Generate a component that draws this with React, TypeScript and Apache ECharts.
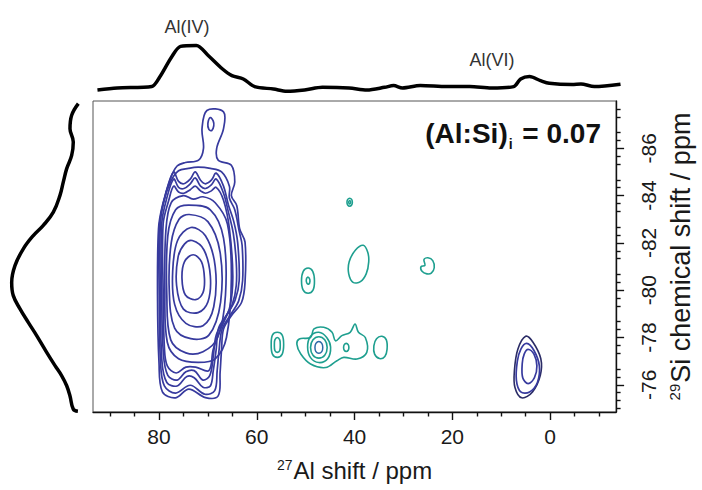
import React, { useEffect, useRef } from 'react';
import * as echarts from 'echarts';

// ---- axis ticks / labels ----
const X_MAJOR = [0, 20, 40, 60, 80];
const X_MINOR = [-10, -5, 5, 10, 15, 25, 30, 35, 45, 50, 55, 65, 70, 75, 85, 90];
const Y_MAJOR = [-86, -84, -82, -80, -78, -76];
const Y_MINOR = [-87.667, -87.333, -86.667, -86.333, -85.667, -85.333, -84.667, -84.333, -83.667, -83.333,
  -82.667, -82.333, -81.667, -81.333, -80.667, -80.333, -79.667, -79.333, -78.667, -78.333,
  -77.667, -77.333, -76.667, -76.333, -75.667, -75.333, -75];

// ---- 1D projections ----
// top: [27Al ppm, relative intensity]
const TOP_SPECTRUM = [
  [92.6, 0.083], [88.6, 0.117], [81.6, 0.143], [80.0, 0.3], [77.6, 0.633], [75.8, 0.81], [72.6, 0.827],
  [70.2, 0.658], [67.3, 0.433], [65.4, 0.323], [63.1, 0.267], [60.8, 0.14], [57.0, 0.1], [54.3, 0.062],
  [50.7, 0.083], [47.1, 0.128], [41.7, 0.117], [38.1, 0.083], [34.5, 0.128], [32.7, 0.157], [30.9, 0.117],
  [27.3, 0.157], [21.9, 0.14], [17.3, 0.14], [12.9, 0.117], [8.4, 0.14], [7.0, 0.267], [5.2, 0.307],
  [3.0, 0.24], [1.2, 0.195], [-3.4, 0.173], [-5.2, 0.183], [-7.9, 0.14], [-13.2, 0.18],
];
// left: [relative intensity, 29Si ppm]
const LEFT_SPECTRUM = [
  [0.024, -87.89], [0.119, -87.4], [0.143, -86.83], [0.096, -86.27], [0.119, -85.7], [0.19, -85.14],
  [0.239, -84.57], [0.286, -84.01], [0.381, -83.3], [0.524, -82.74], [0.667, -82.31], [0.81, -81.75],
  [0.929, -81.04], [0.976, -80.33], [0.953, -79.77], [0.857, -79.21], [0.739, -78.64], [0.619, -78.08],
  [0.476, -77.37], [0.357, -76.81], [0.261, -76.38], [0.19, -75.96], [0.143, -75.53], [0.096, -74.97],
  [0.03, -74.88],
];

// ---- 2D contours: [27Al ppm, 29Si ppm] ----
const AL4_CONTOURS = [
  [[73.0, -81.5], [71.3, -81.2], [70.7, -80.5], [71.0, -79.9], [72.5, -79.6], [74.6, -79.8], [75.3, -80.5], [74.8, -81.2]],
  [[73.2, -82.1], [70.8, -81.7], [69.5, -80.6], [70.0, -79.5], [72.0, -79.05], [75.0, -79.2], [76.4, -80.2], [76.1, -81.4], [74.8, -81.95]],
  [[73.5, -82.65], [70.5, -82.3], [68.5, -81.0], [68.8, -79.3], [71.0, -78.5], [74.5, -78.6], [76.8, -79.4], [77.2, -80.8], [76.2, -82.1]],
  [[73.8, -83.2], [70.0, -82.9], [67.5, -81.6], [67.4, -79.5], [69.8, -78.1], [73.5, -77.95], [76.8, -78.4], [77.9, -80.0], [77.5, -82.0], [75.9, -83.0]],
  [[74.0, -83.6], [69.5, -83.4], [66.8, -82.2], [66.4, -79.8], [68.0, -78.0], [71.0, -77.4], [74.5, -77.35], [77.6, -77.9], [78.4, -79.8], [78.2, -82.3], [76.6, -83.4]],
  [[75.0, -84.0], [73.0, -83.85], [71.0, -83.95], [68.5, -83.7], [66.0, -82.8], [65.2, -80.5], [66.2, -78.0], [68.5, -77.1], [72.0, -76.95], [76.0, -77.1], [78.3, -77.8], [78.8, -80.0], [78.6, -82.5], [77.5, -83.7]],
  [[79.15, -82.8], [78.0, -83.8], [77.0, -84.4], [76.0, -84.15], [74.9, -84.1], [73.6, -84.25], [72.6, -84.4], [71.5, -84.2], [70.5, -84.1], [69.3, -84.2], [68.3, -84.35], [66.8, -83.8], [65.6, -82.6], [64.9, -80.6], [65.5, -79.3], [67.3, -78.4], [68.9, -77.5], [69.8, -76.6], [72.5, -76.75], [74.5, -76.75], [76.5, -76.5], [78.3, -76.8], [78.9, -77.6], [79.15, -80.0]],
  [[79.45, -82.8], [78.4, -83.9], [77.0, -84.7], [76.0, -84.35], [74.9, -84.3], [73.6, -84.5], [72.6, -84.75], [71.5, -84.4], [70.5, -84.3], [69.3, -84.45], [68.3, -84.7], [66.8, -84.1], [65.8, -83.3], [64.8, -82.4], [64.2, -81.2], [64.2, -80.2], [65.0, -79.4], [66.6, -78.8], [68.3, -78.1], [68.9, -77.2], [69.6, -76.4], [71.0, -76.2], [72.8, -76.6], [74.5, -76.55], [76.3, -76.2], [78.2, -76.4], [79.1, -77.3], [79.45, -79.8]],
  [[79.7, -82.9], [78.6, -84.1], [77.0, -85.0], [76.0, -84.6], [74.9, -84.5], [73.6, -84.7], [72.6, -85.0], [71.5, -84.65], [70.5, -84.5], [69.3, -84.65], [68.3, -84.95], [66.8, -84.4], [65.8, -83.6], [64.7, -82.9], [63.9, -82.0], [63.6, -80.4], [64.4, -79.6], [66.0, -79.0], [67.8, -78.4], [68.3, -77.5], [68.9, -76.6], [69.5, -75.95], [71.0, -75.9], [72.8, -76.3], [74.3, -76.35], [76.3, -75.95], [78.4, -76.1], [79.4, -77.0], [79.7, -79.8]],
  [[79.95, -82.6], [79.1, -83.7], [77.6, -84.6], [76.0, -85.05], [74.0, -85.15], [72.0, -85.2], [69.5, -85.15], [67.2, -85.0], [65.6, -84.4], [65.6, -83.9], [64.5, -83.4], [63.6, -82.5], [63.0, -81.9], [62.9, -80.4], [63.7, -79.55], [65.4, -78.95], [67.1, -78.35], [67.7, -77.5], [68.1, -76.6], [68.6, -75.75], [70.6, -75.6], [73.6, -75.98], [76.6, -75.65], [78.9, -75.95], [79.7, -77.0], [79.95, -79.8]],
  [[70.2, -87.6], [66.8, -87.54], [66.8, -86.83], [68.2, -86.0], [67.9, -85.5], [65.2, -85.28], [64.5, -84.57], [65.2, -84.0], [64.1, -83.58], [63.5, -82.6], [62.4, -82.03], [62.4, -80.33], [63.1, -79.49], [65.2, -78.92], [66.8, -78.36], [67.2, -77.51], [67.5, -76.52], [67.9, -75.53], [70.5, -75.46], [73.9, -75.82], [76.6, -75.45], [79.3, -75.7], [80.0, -76.94], [80.3, -79.77], [80.1, -82.6], [79.3, -83.58], [77.6, -84.75], [76.3, -85.25], [74.6, -85.4], [71.9, -85.5], [70.9, -86.0], [71.2, -86.83]],
  [[69.5, -87.3], [68.9, -87.15], [68.8, -86.95], [69.2, -86.75], [69.8, -86.8], [70.0, -87.05]],
];

const TEAL_CONTOURS = [
  [[41.0, -83.89], [40.6, -83.84], [40.45, -83.72], [40.6, -83.6], [41.0, -83.55], [41.4, -83.6], [41.55, -83.72], [41.4, -83.84]],
  [[41.0, -83.79], [40.8, -83.72], [41.0, -83.65], [41.2, -83.72]],
  [[38.2, -81.9], [37.3, -81.6], [37.1, -81.2], [37.6, -80.7], [38.8, -80.36], [40.3, -80.33], [41.2, -80.7], [41.1, -81.2], [39.8, -81.7]],
  [[25.0, -81.37], [24.0, -81.25], [23.7, -80.95], [24.3, -80.72], [25.2, -80.69], [26.2, -80.8], [26.4, -81.0], [25.6, -81.05], [25.8, -81.3]],
  [[49.5, -80.94], [48.55, -80.8], [48.2, -80.4], [48.5, -80.0], [49.5, -79.87], [50.5, -80.0], [50.85, -80.4], [50.5, -80.8]],
  [[49.5, -80.55], [49.15, -80.45], [49.2, -80.3], [49.5, -80.25], [49.85, -80.35], [49.8, -80.5]],
  [[55.8, -78.22], [54.8, -78.1], [54.5, -77.7], [54.8, -77.3], [55.8, -77.16], [56.8, -77.3], [57.05, -77.7], [56.8, -78.1]],
  [[55.8, -78.0], [55.3, -77.9], [55.2, -77.7], [55.3, -77.45], [55.8, -77.37], [56.3, -77.45], [56.4, -77.7], [56.3, -77.9]],
  [[51.8, -77.72], [51.0, -77.3], [49.0, -76.88], [45.9, -76.73], [43.6, -77.02], [42.2, -77.16], [39.5, -77.09], [37.5, -77.37], [37.8, -78.0], [39.2, -78.22], [39.9, -78.57], [40.9, -78.22], [42.6, -78.08], [43.9, -77.86], [44.6, -78.22], [46.3, -78.43], [48.3, -78.36], [49.0, -78.0], [51.3, -77.94]],
  [[47.3, -78.22], [45.7, -78.0], [44.9, -77.6], [45.5, -77.1], [47.3, -76.94], [49.0, -77.15], [49.6, -77.6], [49.0, -78.05]],
  [[47.3, -78.03], [46.1, -77.9], [45.6, -77.58], [46.1, -77.25], [47.3, -77.13], [48.5, -77.25], [49.0, -77.58], [48.5, -77.9]],
  [[41.7, -77.75], [41.3, -77.7], [41.16, -77.58], [41.3, -77.46], [41.7, -77.41], [42.1, -77.46], [42.24, -77.58], [42.1, -77.7]],
  [[34.4, -78.05], [33.5, -77.9], [33.35, -77.5], [33.8, -77.2], [34.9, -77.11], [35.9, -77.3], [36.05, -77.65], [35.5, -77.95]],
];

const MIXED_CORE = [
  [[47.3, -77.83], [46.7, -77.75], [46.5, -77.58], [46.7, -77.4], [47.3, -77.33], [47.9, -77.4], [48.1, -77.58], [47.9, -77.75]],
];

const AL6_OUTER = [
  [[5.0, -78.05], [3.5, -77.8], [1.9, -77.1], [2.0, -76.4], [3.6, -75.7], [5.8, -75.45], [7.2, -75.9], [7.3, -76.6], [6.6, -77.5]],
];
const AL6_CONTOURS = [
  [[4.8, -77.75], [3.3, -77.45], [2.2, -76.8], [2.6, -76.1], [4.2, -75.7], [6.0, -75.7], [6.9, -76.2], [6.7, -77.0], [6.0, -77.5]],
  [[4.5, -77.5], [3.3, -77.3], [2.7, -76.8], [3.2, -76.3], [4.5, -76.05], [5.6, -76.3], [5.7, -76.9], [5.3, -77.3]],
];

const FONT = '"Liberation Sans", Arial, Helvetica, sans-serif';
const BLUE = '#373a9e';
const TEAL = '#1e9f8f';

function contourSeries(name: string, contours: number[][][], color: string, width: number) {
  return {
    type: 'custom',
    name,
    coordinateSystem: 'cartesian2d',
    xAxisIndex: 0,
    yAxisIndex: 0,
    silent: true,
    clip: true,
    data: contours.map((c) => [c[0][0], c[0][1]]),
    encode: { x: 0, y: 1 },
    renderItem: (params: any, api: any) => {
      const c = contours[params.dataIndex];
      return {
        type: 'polygon',
        shape: { points: c.map((p) => api.coord(p)), smooth: 0.35 },
        style: { fill: 'none', stroke: color, lineWidth: width },
      };
    },
  };
}

export default function App() {
  const ref = useRef<HTMLDivElement>(null);
  useEffect(() => {
    document.body.style.margin = '0';
    if (!ref.current) return;
    const chart = echarts.init(ref.current, undefined, { renderer: 'svg' });
    const xRange = { min: -13.5, max: 93.5 };
    const yRange = { min: -88, max: -74.85 };
    const tickStyle = { color: '#111', width: 1.4 };
    const hiddenLine = { show: false, onZero: false };
    chart.setOption({
      animation: false,
      backgroundColor: '#ffffff',
      grid: [
        { left: 93, top: 101, width: 529, height: 311, show: true, borderColor: '#555', borderWidth: 1, backgroundColor: 'transparent' },
        { left: 93, top: 35, width: 529, height: 60 },
        { left: 10, top: 101, width: 70, height: 311 },
      ],
      xAxis: [
        {
          gridIndex: 0, type: 'value', inverse: true, position: 'bottom', ...xRange,
          axisLine: { show: true, onZero: false, lineStyle: { color: '#111', width: 1.4 } },
          axisTick: { show: true, customValues: X_MAJOR, length: 8, lineStyle: tickStyle },
          axisLabel: { customValues: X_MAJOR, fontSize: 21, color: '#1a1a1a', fontFamily: FONT, margin: 14 },
          splitLine: { show: false },
          name: '{s|27}{n|Al shift / ppm}',
          nameLocation: 'middle',
          nameGap: 46,
          nameTextStyle: {
            color: '#1a1a1a', fontFamily: FONT,
            rich: {
              s: { fontSize: 14, fontFamily: FONT, color: '#1a1a1a', padding: [0, 1, 11, 0] },
              n: { fontSize: 24, fontFamily: FONT, color: '#1a1a1a' },
            },
          },
        },
        {
          gridIndex: 0, type: 'value', inverse: true, position: 'bottom', ...xRange,
          axisLine: hiddenLine,
          axisTick: { show: true, customValues: X_MINOR, length: 4.5, lineStyle: tickStyle },
          axisLabel: { show: false },
          splitLine: { show: false },
        },
        { gridIndex: 1, type: 'value', inverse: true, ...xRange, show: false, axisLine: hiddenLine },
        { gridIndex: 2, type: 'value', inverse: true, min: 0, max: 1, show: false, axisLine: hiddenLine },
      ],
      yAxis: [
        {
          gridIndex: 0, type: 'value', inverse: true, position: 'right', ...yRange,
          axisLine: { show: true, onZero: false, lineStyle: { color: '#111', width: 1.4 } },
          axisTick: { show: true, customValues: Y_MAJOR, length: 8, lineStyle: tickStyle },
          axisLabel: { customValues: Y_MAJOR, fontSize: 21, color: '#1a1a1a', fontFamily: FONT, rotate: 90, margin: 22 },
          splitLine: { show: false },
          name: '{s|29}{n|Si chemical shift / ppm}',
          nameLocation: 'middle',
          nameRotate: 90,
          nameGap: 50,
          nameTextStyle: {
            color: '#1a1a1a', fontFamily: FONT,
            rich: {
              s: { fontSize: 15, fontFamily: FONT, color: '#1a1a1a', padding: [0, 1, 12, 0] },
              n: { fontSize: 27, fontFamily: FONT, color: '#1a1a1a' },
            },
          },
        },
        {
          gridIndex: 0, type: 'value', inverse: true, position: 'right', ...yRange,
          axisLine: hiddenLine,
          axisTick: { show: true, customValues: Y_MINOR, length: 4.5, lineStyle: tickStyle },
          axisLabel: { show: false },
          splitLine: { show: false },
        },
        { gridIndex: 1, type: 'value', min: 0, max: 1, show: false, axisLine: hiddenLine },
        { gridIndex: 2, type: 'value', inverse: true, ...yRange, show: false, axisLine: hiddenLine },
      ],
      series: [
        contourSeries('Al(IV)', AL4_CONTOURS, BLUE, 1.7),
        contourSeries('teal', TEAL_CONTOURS, TEAL, 1.6),
        contourSeries('core', MIXED_CORE, '#2d6aa6', 1.5),
        contourSeries('Al(VI) outer', AL6_OUTER, '#2b2c66', 1.6),
        contourSeries('Al(VI)', AL6_CONTOURS, BLUE, 1.7),
        {
          type: 'line', name: 'top', xAxisIndex: 2, yAxisIndex: 2, data: TOP_SPECTRUM,
          smooth: 0.3, showSymbol: false, symbol: 'none', silent: true,
          lineStyle: { color: '#000', width: 3.5 },
        },
        {
          type: 'line', name: 'left', xAxisIndex: 3, yAxisIndex: 3, data: LEFT_SPECTRUM,
          smooth: 0.4, showSymbol: false, symbol: 'none', silent: true,
          lineStyle: { color: '#000', width: 3.5 },
        },
      ],
      graphic: [
        {
          type: 'text', x: 187, y: 27,
          style: { text: 'Al(IV)', fontSize: 18, fontFamily: FONT, fill: '#333', align: 'center', verticalAlign: 'middle' },
        },
        {
          type: 'text', x: 492, y: 60,
          style: { text: 'Al(VI)', fontSize: 18, fontFamily: FONT, fill: '#333', align: 'center', verticalAlign: 'middle' },
        },
        {
          type: 'text', x: 601, y: 133,
          style: {
            text: '{a|(Al:Si)}{b|i}{a| = 0.07}',
            align: 'right', verticalAlign: 'middle',
            rich: {
              a: { fontSize: 28, fontWeight: 'bold', fontFamily: FONT, fill: '#111', color: '#111' },
              b: { fontSize: 14, fontWeight: 'bold', fontFamily: FONT, fill: '#111', color: '#111', padding: [22, 2, 0, 1] },
            },
          },
        },
      ],
    });
    return () => chart.dispose();
  }, []);
  return <div ref={ref} style={{ position: 'absolute', left: 0, top: 0, width: 702, height: 490 }} />;
}
